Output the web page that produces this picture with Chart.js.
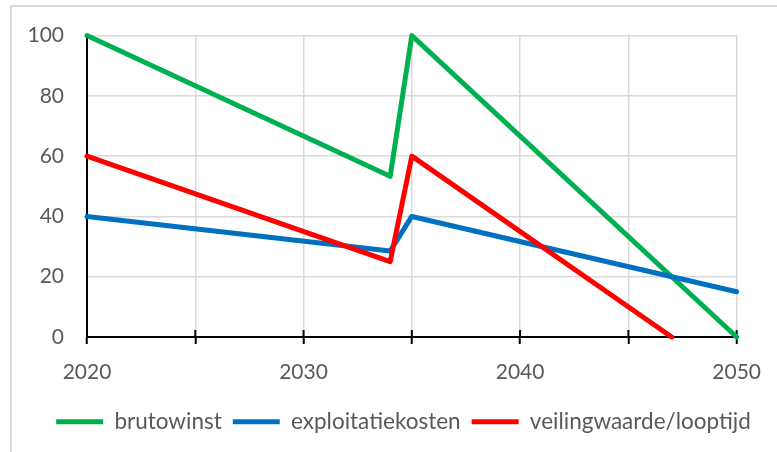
<!DOCTYPE html>
<html>
<head>
<meta charset="utf-8">
<script src="https://cdn.jsdelivr.net/npm/chart.js@4/dist/chart.umd.min.js"></script>
<style>
  html, body { margin: 0; padding: 0; background: #fff; }
  #wrap { position: relative; width: 777px; height: 452px; overflow: hidden; }
  #frame { position: absolute; left: 10px; top: 5px; width: 820px; height: 520px; border: 2px solid #D9D9D9; box-sizing: border-box; }
  #c { position: absolute; left: 0; top: 0; }
</style>
</head>
<body>
<div id="wrap">
  <div id="frame"></div>
  <canvas id="c" width="777" height="452"></canvas>
</div>
<script>
// Data
const yearsMain = [2020, 2034, 2035, 2050];
const brutowinst = [100, 53.3, 100, 0];
const exploitatiekosten = [40, 28.5, 40, 15];
const yearsVeiling = [2020, 2034, 2035, 2047];
const veilingwaarde = [60, 25, 60, 0];
const seriesNames = ['brutowinst', 'exploitatiekosten', 'veilingwaarde/looptijd'];
const xTickLabels = [2020, 2030, 2040, 2050];
const yTickValues = [0, 20, 40, 60, 80, 100];

const toPoints = (xs, ys) => xs.map((x, i) => ({ x: x, y: ys[i] }));

const TEXT = '#595959';
const FONT = { family: 'Lato', size: 21 };
const LEGEND_FONT = { family: 'Lato', size: 22.5 };

const upperTicks = {
  id: 'upperTicks',
  beforeDatasetsDraw(chart) {
    const sx = chart.scales.x;
    const ctx = chart.ctx;
    const yb = chart.chartArea.bottom;
    ctx.save();
    ctx.strokeStyle = '#000';
    ctx.lineWidth = 2;
    sx.ticks.forEach(t => {
      const px = sx.getPixelForValue(t.value);
      ctx.beginPath();
      ctx.moveTo(px, yb - 7);
      ctx.lineTo(px, yb);
      ctx.stroke();
    });
    ctx.restore();
  }
};

// shift the legend block so it is centred like the reference
const legendShift = {
  id: 'legendShift',
  afterLayout(chart) {
    const lg = chart.legend;
    if (lg) { lg.left += 35; lg.right += 35; }
  }
};

const lineStyle = (color) => ({
  borderColor: color,
  backgroundColor: color,
  borderWidth: 5,
  pointRadius: 0,
  pointHoverRadius: 0,
  tension: 0,
  fill: false,
  borderCapStyle: 'round',
  borderJoinStyle: 'round',
  clip: false
});

new Chart(document.getElementById('c'), {
  type: 'line',
  data: {
    datasets: [
      Object.assign({ label: seriesNames[0], data: toPoints(yearsMain, brutowinst), order: 3 }, lineStyle('#00B050')),
      Object.assign({ label: seriesNames[1], data: toPoints(yearsMain, exploitatiekosten), order: 2 }, lineStyle('#0070C0')),
      Object.assign({ label: seriesNames[2], data: toPoints(yearsVeiling, veilingwaarde), order: 1 }, lineStyle('#FF0000'))
    ]
  },
  options: {
    responsive: false,
    animation: false,
    events: [],
    layout: { padding: { top: 35, right: 40, bottom: 9, left: 0 } },
    plugins: {
      tooltip: { enabled: false },
      title: { display: false },
      legend: {
        position: 'bottom',
        labels: {
          usePointStyle: true,
          pointStyle: 'line',
          pointStyleWidth: 47,
          boxHeight: 22.5,
          padding: 11,
          color: TEXT,
          font: LEGEND_FONT,
          sort: (a, b) => a.datasetIndex - b.datasetIndex
        }
      }
    },
    scales: {
      x: {
        type: 'linear',
        min: 2020,
        max: 2050,
        afterFit: (s) => { s.height = 62.5; },
        ticks: {
          stepSize: 5,
          padding: 16,
          color: TEXT,
          font: FONT,
          maxRotation: 0,
          callback: (v) => xTickLabels.includes(v) ? String(v) : ''
        },
        grid: { color: '#D9D9D9', lineWidth: 1.5, tickColor: '#000', tickLength: 7, tickWidth: 2 },
        border: { color: '#000', width: 2 }
      },
      y: {
        min: 0,
        max: 100,
        afterFit: (s) => { s.width = 87; },
        ticks: {
          stepSize: 20,
          padding: 23,
          color: TEXT,
          font: FONT,
          callback: (v) => yTickValues.includes(v) ? String(v) : ''
        },
        grid: { color: '#D9D9D9', lineWidth: 1.5, drawTicks: false },
        border: { color: '#000', width: 2 }
      }
    }
  },
  plugins: [upperTicks, legendShift]
});
</script>
</body>
</html>
